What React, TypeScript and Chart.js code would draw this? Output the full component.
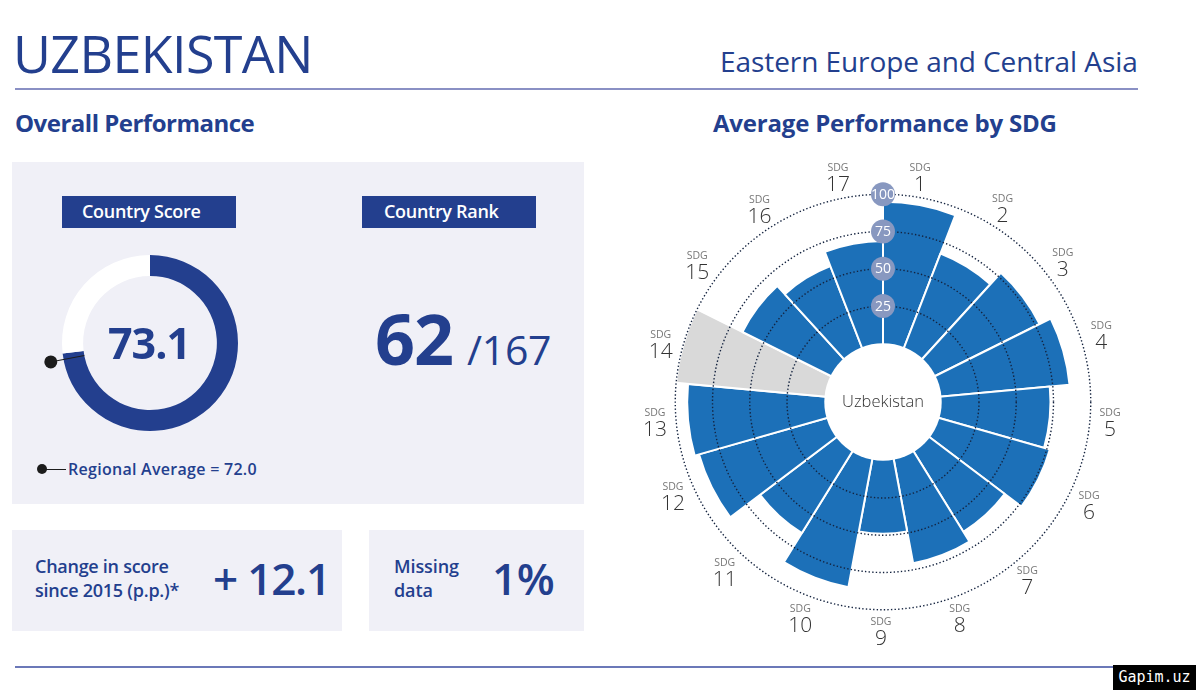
import { useEffect, useRef } from 'react';
import { Chart, registerables } from 'chart.js';
Chart.register(...registerables);

// overall panel
const scoreSegments = [73.1, 26.9];
const regionalAverage = 72.0;

// SDG wheel, clockwise from the top
const sdgLabels = ['1', '2', '3', '4', '5', '6', '7', '8', '9', '10', '11', '12', '13', '14', '15', '16', '17'];
const sdgValues = [95, 67.5, 78, 86.3, 73, 77, 63, 70.7, 49, 87, 64, 89, 92, 100, 66, 58.5, 68.7];
const missingSdgs = ['14'];
const ringValues = [25, 50, 75, 100];

const NAVY = '#233f8e';
const BLUE = '#1c70b8';
const GREY = '#d9d9d9';
const PANEL = '#f0f0f7';
const FONT = '"Open Sans", sans-serif';

const WHEEL_MIN = -39.4; // hole in the middle of the wheel
const WHEEL_MAX = 150.5;
const LABEL_VALUE = 114.3;
// the goal labels are not quite on a circle in the original
const labelNudge = [
    [-5, 0], [-1, 0], [-3, -2], [-2, -5], [-1, -2], [1, 0], [-10, 8], [-6, 2], [-2, -1],
    [0, 2], [-4, 0], [-5, -9], [0, -2], [-2, 4], [-3, 1], [-3, 1], [-3, 0],
];

const wheelPlugin = {
    id: 'wheelExtras',
    afterDraw(chart: any) {
        const { ctx, scales } = chart;
        const r = scales.r;
        ctx.save();

        // hole
        ctx.fillStyle = '#fff';
        ctx.beginPath();
        ctx.arc(r.xCenter, r.yCenter, r.getDistanceFromCenterForValue(0), 0, Math.PI * 2);
        ctx.fill();

        ctx.textAlign = 'center';
        ctx.textBaseline = 'middle';
        ctx.fillStyle = '#333';
        ctx.font = `300 16.5px ${FONT}`;
        ctx.fillText('Uzbekistan', r.xCenter, r.yCenter);

        // ring badges
        ringValues.forEach((v) => {
            const p = r.getPointPositionForValue(0, v);
            ctx.fillStyle = '#8898c0';
            ctx.beginPath();
            ctx.arc(p.x, p.y, 12, 0, Math.PI * 2);
            ctx.fill();
            ctx.fillStyle = '#fff';
            ctx.font = `400 14px ${FONT}`;
            ctx.fillText(String(v), p.x, p.y + 0.5);
        });

        // goal labels
        sdgLabels.forEach((label, i) => {
            const p = r.getPointPositionForValue(i + 0.5, LABEL_VALUE);
            const x = p.x + labelNudge[i][0];
            const y = p.y + labelNudge[i][1];
            ctx.fillStyle = '#777';
            ctx.font = `400 10.5px ${FONT}`;
            ctx.fillText('SDG', x, y - 8.5);
            ctx.fillStyle = '#333';
            ctx.font = `300 21px ${FONT}`;
            ctx.fillText(label, x, y + 8.5);
        });
        ctx.restore();
    },
};

const averagePlugin = {
    id: 'averageMarker',
    afterDraw(chart: any) {
        const { ctx } = chart;
        const arc = chart.getDatasetMeta(0).data[0];
        const angle = -Math.PI / 2 + (regionalAverage / 100) * Math.PI * 2;
        const cos = Math.cos(angle);
        const sin = Math.sin(angle);
        ctx.save();
        ctx.strokeStyle = '#1c1c1c';
        ctx.lineWidth = 1;
        ctx.beginPath();
        ctx.moveTo(arc.x + cos * arc.innerRadius, arc.y + sin * arc.innerRadius);
        ctx.lineTo(arc.x + cos * 101, arc.y + sin * 101);
        ctx.stroke();
        ctx.fillStyle = '#1c1c1c';
        ctx.beginPath();
        ctx.arc(arc.x + cos * 101, arc.y + sin * 101, 6.5, 0, Math.PI * 2);
        ctx.fill();
        ctx.restore();
    },
};

const Text = ({ x, y, size, weight = 400, color = NAVY, spacing = 0, children }: any) => (
    <div style={{
        position: 'absolute', left: x, top: y - size * 0.888, fontSize: size, lineHeight: 1,
        fontWeight: weight, color, letterSpacing: spacing, whiteSpace: 'nowrap',
    }}>{children}</div>
);

const Box = ({ x, y, w, h, color }: any) => (
    <div style={{ position: 'absolute', left: x, top: y, width: w, height: h, background: color }} />
);

const App = () => {
    const donutRef = useRef<HTMLCanvasElement>(null);
    const wheelRef = useRef<HTMLCanvasElement>(null);

    useEffect(() => {
        const donut = new Chart(donutRef.current!, {
            type: 'doughnut',
            data: {
                labels: ['Score', 'Rest'],
                datasets: [{ data: scoreSegments, backgroundColor: [NAVY, '#fff'], borderWidth: 0 }],
            },
            options: {
                animation: false,
                responsive: false,
                cutout: '76%',
                layout: { padding: 27 },
                plugins: { legend: { display: false }, tooltip: { enabled: false } },
            },
            plugins: [averagePlugin],
        } as any);

        const wheel = new Chart(wheelRef.current!, {
            type: 'polarArea',
            data: {
                labels: sdgLabels,
                datasets: [{
                    data: sdgValues,
                    backgroundColor: sdgLabels.map((l) => (missingSdgs.includes(l) ? GREY : BLUE)),
                    borderColor: '#fff',
                    borderWidth: 2,
                }],
            },
            options: {
                animation: false,
                responsive: false,
                plugins: { legend: { display: false }, tooltip: { enabled: false } },
                scales: {
                    r: {
                        min: WHEEL_MIN,
                        max: WHEEL_MAX,
                        startAngle: 0,
                        ticks: { display: false },
                        afterBuildTicks: (axis: any) => {
                            axis.ticks = ringValues.map((value) => ({ value }));
                        },
                        grid: { circular: true, color: '#14233f', lineWidth: 1.4, z: 1 },
                        border: { dash: [1.4, 2.2] },
                    },
                },
            },
            plugins: [wheelPlugin],
        } as any);

        return () => {
            donut.destroy();
            wheel.destroy();
        };
    }, []);

    return (
        <div style={{ position: 'absolute', left: 0, top: 0, width: 1200, height: 695, background: '#fff', fontFamily: FONT, overflow: 'hidden' }}>
            <Text x={13} y={73} size={52} spacing={-0.6}>UZBEKISTAN</Text>
            <Text x={720} y={72} size={28} spacing={-0.07}>Eastern Europe and Central Asia</Text>
            <Box x={15} y={88} w={1123} h={2} color="#8a90c4" />
            <Text x={15} y={132} size={24} weight={700} spacing={-0.5}>Overall Performance</Text>
            <Text x={713} y={132} size={24} weight={700} spacing={-0.2}>Average Performance by SDG</Text>

            <Box x={12} y={162} w={572} h={342} color={PANEL} />
            <Box x={12} y={530} w={330} h={101} color={PANEL} />
            <Box x={369} y={530} w={215} h={101} color={PANEL} />

            <Box x={62} y={196} w={174} h={32} color={NAVY} />
            <Text x={82} y={218} size={18} weight={600} color="#fff" spacing={-0.3}>Country Score</Text>
            <Box x={362} y={196} w={174} h={32} color={NAVY} />
            <Text x={384} y={218} size={18} weight={600} color="#fff" spacing={-0.3}>Country Rank</Text>

            <canvas ref={donutRef} width={230} height={230} style={{ position: 'absolute', left: 35, top: 228.3, width: 230, height: 230 }} />
            <Text x={108} y={359} size={43} weight={700} spacing={-1}>73.1</Text>

            <Text x={375} y={365} size={70} weight={700} spacing={-1}>62</Text>
            <Text x={467} y={365} size={41} spacing={-0.3}>/167</Text>

            <Box x={42} y={468.5} w={24} h={1} color="#1c1c1c" />
            <div style={{ position: 'absolute', left: 37, top: 464, width: 10, height: 10, borderRadius: 5, background: '#1c1c1c' }} />
            <Text x={68} y={475} size={16} weight={600} spacing={0.28}>Regional Average = 72.0</Text>

            <Text x={35} y={573} size={18} weight={600} spacing={-0.27}>Change in score</Text>
            <Text x={35} y={597} size={18} weight={600} spacing={-0.25}>since 2015 (p.p.)*</Text>
            <Text x={213} y={595} size={44} weight={600} spacing={-1.2}>+ 12.1</Text>
            <Text x={394} y={573} size={18} weight={600} spacing={-0.1}>Missing</Text>
            <Text x={394} y={597} size={18} weight={600} spacing={-0.1}>data</Text>
            <Text x={492} y={595} size={44} weight={600} spacing={-0.5}>1%</Text>

            <canvas ref={wheelRef} width={566} height={566} style={{ position: 'absolute', left: 600, top: 119, width: 566, height: 566 }} />

            <Box x={15} y={666} w={1098} h={2} color="#6b78b8" />
            <div style={{
                position: 'absolute', left: 1113, top: 665, width: 83, height: 25, background: '#000', color: '#fff',
                fontFamily: '"DejaVu Sans Mono", monospace', fontSize: 15, lineHeight: '25px', textAlign: 'center',
            }}>Gapim.uz</div>
        </div>
    );
};

export default App;
